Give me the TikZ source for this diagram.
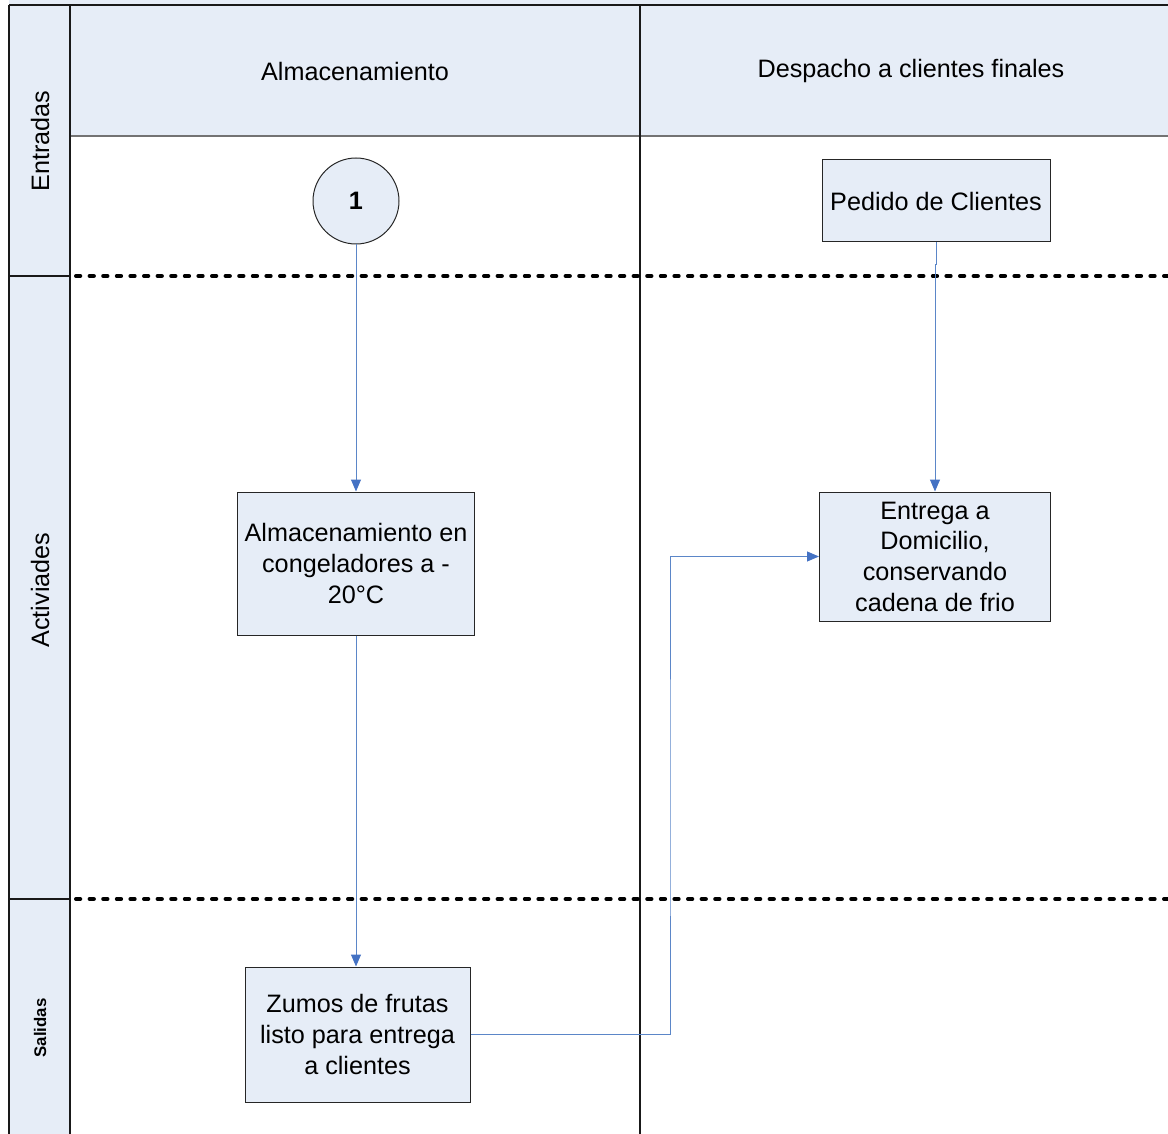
\documentclass[tikz,border=0pt]{standalone}
\usepackage{fontspec}
\setmainfont{Liberation Sans}
\usetikzlibrary{arrows.meta}
\definecolor{lanefill}{HTML}{E6EDF7}
\definecolor{flow}{HTML}{5B86C8}
\definecolor{flowtip}{HTML}{4472C4}
\begin{document}
\begin{tikzpicture}[x=0.75pt,y=-0.75pt,
  txt/.style={font=\fontsize{18.9}{23}\selectfont},
  stepbox/.style={draw=black!85, fill=lanefill, line width=0.75pt, align=center,
    txt, inner sep=0pt},
  connector/.style={draw=flow, line width=0.75pt,
    -{Triangle[length=9pt,width=7.5pt,fill=flowtip,color=flowtip]}},
  plainline/.style={draw=flow, line width=0.75pt},
  phase/.style={draw=black, line width=3pt, line cap=round, dash pattern=on 3.2pt off 7pt},
  frame/.style={draw=black!90, line width=1.1pt}]
\useasboundingbox (0,0) rectangle (1168,1134);

% lane header and phase strip backgrounds
\fill[lanefill] (70,0) rectangle (1168,136);
\fill[lanefill] (9,0) rectangle (70,1134);

% frame lines
\draw[frame] (9,5) -- (1168,5);
\draw[draw=black!55, line width=1.5pt] (70,136) -- (1168,136);
\draw[frame] (9,5) -- (9,1134);
\draw[frame] (70,5) -- (70,1134);
\draw[frame] (640,5) -- (640,1134);
\draw[frame] (9,276) -- (70,276);
\draw[frame] (9,899) -- (70,899);

% phase separators
\draw[phase] (76,276) -- (1168,276);
\draw[phase] (76,899) -- (1168,899);

% lane titles
\node[txt] (laneA) at (355,71) {Almacenamiento};
\node[txt] (laneB) at (911,71) {Despacho a clientes finales};

% phase titles
\node[txt, rotate=90] (phIn) at (40,141) {Entradas};
\node[txt, rotate=90] (phAct) at (40,590) {Activiades};
\node[font=\bfseries\fontsize{12.6}{15}\selectfont, rotate=90] (phOut) at (40,1028) {Salidas};

% flow elements
\node[draw=black!85, fill=lanefill, line width=0.75pt, circle, minimum size=64.5pt,
  inner sep=0pt, font=\bfseries\fontsize{18.9}{23}\selectfont] (c1) at (356,201) {1};
\node[stepbox, minimum width=177.75pt, minimum height=107.25pt] (store) at (356,563.5)
  {Almacenamiento en\\congeladores a -\\20°C};
\node[stepbox, minimum width=168.75pt, minimum height=101.25pt] (juice) at (357.5,1034.5)
  {Zumos de frutas\\listo para entrega\\a clientes};
\node[stepbox, minimum width=171pt, minimum height=61.5pt] (order) at (936,201)
  {Pedido de Clientes};
\node[stepbox, minimum width=173.25pt, minimum height=96.75pt] (deliver) at (935,556.5)
  {Entrega a\\Domicilio,\\conservando\\cadena de frio};

% connectors
\coordinate (jog) at (935,265);
\coordinate (turn) at (670,800);
\draw[connector] (c1.south) -- (store.north);
\draw[connector] (store.south) -- (store.south |- juice.north);
\draw[plainline] (order.south) |- (jog);
\draw[connector] (jog) -- (deliver.north);
\draw[connector] (juice.east) -| (turn) |- (deliver.west);
\end{tikzpicture}
\end{document}
